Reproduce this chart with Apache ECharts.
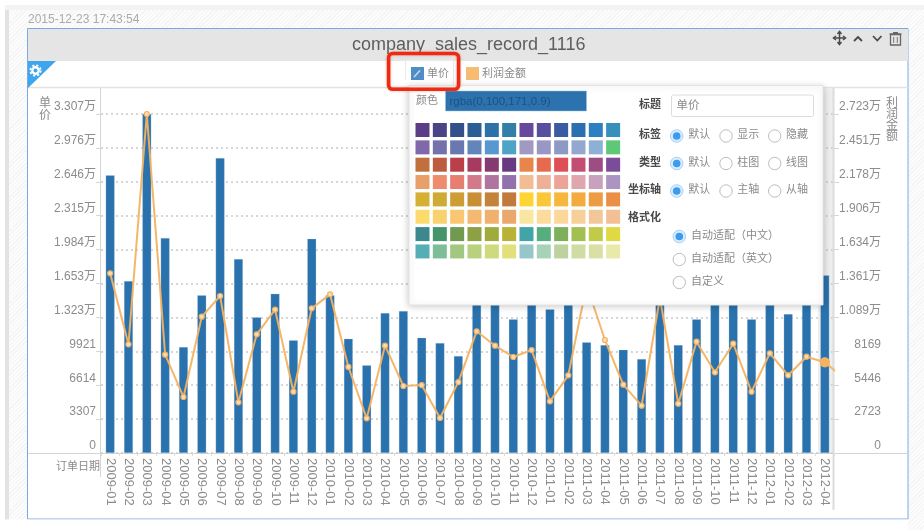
<!DOCTYPE html>
<html><head><meta charset="utf-8">
<style>
html,body{margin:0;padding:0;width:924px;height:530px;overflow:hidden;background:#fff}
#hatch{position:absolute;left:9px;top:10px;width:915px;height:520px;background:repeating-linear-gradient(135deg,#f4f4f4 0,#f4f4f4 1px,#fcfcfc 1px,#fcfcfc 3px)}
#topstrip{position:absolute;left:5px;top:5px;width:919px;height:5px;background:#f3f3f3}
#leftstrip{position:absolute;left:5px;top:10px;width:4px;height:520px;background:#e2e2e2}
#main{position:absolute;left:0;top:0;width:924px;height:530px}
</style>
<script src="https://cdn.jsdelivr.net/npm/echarts@6/dist/echarts.min.js"></script>
</head><body>
<div id="topstrip"></div><div id="leftstrip"></div><div id="hatch"></div><div id="main"></div>
<script>
const FONT = "'Liberation Sans','Noto Sans CJK SC',sans-serif";
const months = ['2009-01','2009-02','2009-03','2009-04','2009-05','2009-06','2009-07','2009-08','2009-09','2009-10','2009-11','2009-12',
'2010-01','2010-02','2010-03','2010-04','2010-05','2010-06','2010-07','2010-08','2010-09','2010-10','2010-11','2010-12',
'2011-01','2011-02','2011-03','2011-04','2011-05','2011-06','2011-07','2011-08','2011-09','2011-10','2011-11','2011-12',
'2012-01','2012-02','2012-03','2012-04','2012-05'];
const unitPrice = [27090,16780,33070,20970,10340,15380,28780,18925,13240,15540,10990,20900,
15380,11150,8550,13660,13850,11250,10730,9460,15800,15300,13040,15600,
14020,15500,10800,10540,10080,9170,15700,10540,13040,15800,16200,13040,
15700,13560,15800,17330,null];
const profit = [14435,8730,27230,7900,4500,10950,12610,4070,9530,11510,4925,11620,
12745,6910,2785,8620,5380,5460,2810,5700,9775,8620,7710,8270,
4150,6240,13495,9077,5490,3800,12450,3960,8940,6480,8780,4925,
8010,6240,7735,7285,6057];
const leftTickLabels = ['0','3307','6614','9921','1.323万','1.653万','1.984万','2.315万','2.646万','2.976万','3.307万'];
const rightTickLabels = ['0','2723','5446','8169','1.089万','1.361万','1.634万','1.906万','2.178万','2.451万','2.723万'];
const swatchColors = [
['#5b3d87','#4a4487','#33508c','#2a5e94','#2b72a8','#327fa8','#66499c','#554f9e','#3b5aa4','#2a6fb0','#2a80c0','#3690bb'],
['#8069ab','#7472ad','#6a78b1','#6485bc','#5897cf','#4ea3c8','#a099c4','#9a97c6','#8e9ac6','#94a7d0','#8fb0d6','#5ec878'],
['#c06f3d','#bd5b40','#b93f48','#a63a60','#853a70','#693a82','#e8854a','#e56a4e','#de4f56','#c24f72','#9e4d84','#7b4c9a'],
['#e99f68','#ee8d6e','#e67f70','#d27a8c','#b074a0','#9271ac','#f2bd93','#eeb096','#eda498','#e0a6b0','#c8a1bc','#ac94c2'],
['#d5b033','#cfaa35','#cd9e35','#c88f37','#c4833a','#c2793c','#ffd535','#f9c738','#f5b83d','#f3ab40','#ee9c43','#ea8f48'],
['#fcdb6e','#f7d26f','#f9c772','#f3b972','#f0b06e','#eba86c','#fae6a0','#fcdc9a','#fcd79c','#f7cf98','#f3c898','#f2c094'],
['#3c888c','#46946c','#6f9a50','#8ca044','#a1aa3d','#b8b338','#41a4a6','#56ae7e','#7db05a','#a2bf52','#c0cb48','#dfd942'],
['#55adb5','#7dbd9a','#a2c880','#b9d07e','#d0da7d','#e2e07a','#96c6ca','#a7d2b8','#bcd3a0','#cfdca4','#d8e0a6','#e9e9aa']];

const STEP_L = 3307, STEP_R = 2723;
const g = [];
const rect = (x,y,w,h,style,z,r)=>g.push({type:'rect',silent:true,z:z,shape:{x,y,width:w,height:h,r:r||0},style});
const line = (x1,y1,x2,y2,stroke,w,z)=>g.push({type:'line',silent:true,z:z,shape:{x1,y1,x2,y2},style:{stroke,lineWidth:w||1}});
const poly = (pts,stroke,w,z)=>g.push({type:'polyline',silent:true,z:z,shape:{points:pts},style:{stroke,lineWidth:w,fill:null}});
const text = (t,x,y,o,z)=>g.push({type:'text',silent:true,z:z,x,y,style:Object.assign({text:t,font:(o.weight||'normal')+' '+(o.size||11)+'px '+FONT,fill:o.color||'#8a8a8a',align:o.align||'left',verticalAlign:'middle'},{})});

// panel
rect(27.5,28.5,880.5,490.5,{fill:'#fff',stroke:'#7aa9e6',lineWidth:1},-20);
rect(28,29,880,32,{fill:'#e5e5e5'},-19);
rect(0,519.5,908,11,{fill:'#fff'},-19);
line(28,87.5,908,87.5,'#e3e3e3',1.5,-18);
text('2015-12-23 17:43:54',28,19.5,{size:12,color:'#ababab'},-18);
// last category hover shade
rect(818,88,15,365,{fill:'#eeeeee'},-17);
// extended axis lines
line(100.5,88,100.5,477,'#d6d6d6',1,-16);
line(833.5,88,833.5,510,'#dcdcdc',2,1);
line(28,453.5,908,453.5,'#d4d4d4',1,-16);
// gear triangle
g.push({type:'polygon',silent:true,z:-15,shape:{points:[[28,61],[56,61],[28,88]]},style:{fill:'#3fa6ee'}});
g.push({type:'circle',silent:true,z:-14,shape:{cx:35.5,cy:70.5,r:3.2},style:{fill:null,stroke:'#fff',lineWidth:2.4}});
g.push({type:'circle',silent:true,z:-14,shape:{cx:35.5,cy:70.5,r:5.2},style:{fill:null,stroke:'#fff',lineWidth:1.8,lineDash:[2.2,1.9]}});
// header icons
const ic='#4a4a4a';
line(839.5,32,839.5,44,ic,1.5,5); line(833.5,38,845.5,38,ic,1.5,5);
poly([[837.5,34],[839.5,31.5],[841.5,34]],ic,1.5,5); poly([[837.5,42],[839.5,44.5],[841.5,42]],ic,1.5,5);
poly([[836,36],[833.5,38],[836,40]],ic,1.5,5); poly([[843,36],[845.5,38],[843,40]],ic,1.5,5);
poly([[854,41],[858,37],[862,41]],ic,1.8,5);
poly([[873,36],[877.3,40.5],[881.5,36]],ic,1.8,5);
g.push({type:'rect',silent:true,z:5,shape:{x:890.5,y:34.5,width:10,height:10.5},style:{fill:null,stroke:'#666',lineWidth:1.3}});
line(889.5,34,901.5,34,'#666',1.3,5); rect(893,32,5,2,{fill:'#666'},5);
line(893.7,37,893.7,43,'#777',1,5); line(897.3,37,897.3,43,'#777',1,5);
// legend tab
poly([[405.5,80],[405.5,60.5],[453.5,60.5],[453.5,84]],'#e9e9e9',1,-10);
line(414,77,420,70.5,'#c9dcee',1.5,5);
// popup
rect(409,85.5,414,219.5,{fill:'#fff',stroke:'#e4e4e4',lineWidth:1,shadowBlur:7,shadowColor:'rgba(0,0,0,0.22)',shadowOffsetY:1},50);
const Z=51;
text('颜色',416,101,{size:11},Z);
rect(445.5,91,141,20,{fill:'#2c72ae',stroke:'#9fc0da',lineWidth:0.5},Z);
text('rgba(0,100,171,0.9)',449.5,101.5,{size:11.5,color:'#1e5180'},Z);
swatchColors.forEach((row,i)=>row.forEach((c,j)=>rect(415.5+j*17.33,123+i*17.35,14,14,{fill:c},Z)));
const labelR=661;
[['标题',105],['标签',135],['类型',162.5],['坐标轴',190],['格式化',217.5]].forEach(a=>text(a[0],labelR,a[1],{size:11,weight:'bold',color:'#4a4a4a',align:'right'},Z));
rect(671.5,95,142,21.5,{fill:'#fff',stroke:'#dcdcdc',lineWidth:1},Z,2);
text('单价',676.5,106,{size:11.5,color:'#8a8a8a'},Z);
const radio=(cx,cy,on)=>{
  if(on){
    g.push({type:'circle',silent:true,z:Z,shape:{cx,cy,r:6.3},style:{fill:'#d8ecfc',stroke:'#a6d3f7',lineWidth:1}});
    g.push({type:'circle',silent:true,z:Z,shape:{cx,cy,r:3.8},style:{fill:'#3a9bef'}});
  } else {
    g.push({type:'circle',silent:true,z:Z,shape:{cx,cy,r:6.2},style:{fill:'#fff',stroke:'#bdbdbd',lineWidth:1}});
  }
};
const radioRows=[[136,['默认','显示','隐藏']],[163.5,['默认','柱图','线图']],[191,['默认','主轴','从轴']]];
radioRows.forEach(r=>{
  [676.7,726,774.7].forEach((x,i)=>{radio(x,r[0],i===0);text(r[1][i],[688.3,737.3,786][i],r[0]-1,{size:11},Z);});
});
[[236.5,'自动适配（中文）'],[259.5,'自动适配（英文）'],[282.5,'自定义']].forEach((r,i)=>{radio(679.3,r[0],i===0);text(r[1],691,r[0]-.5,{size:11},Z);});
// red highlight
rect(388.6,53.5,70,35.8,{fill:null,stroke:'#ee2b10',lineWidth:3.6,shadowBlur:3,shadowColor:'rgba(180,60,40,0.35)'},60,4);

const chart = echarts.init(document.getElementById('main'),null,{renderer:'canvas',width:924,height:530});
const axisTxt={color:'#8c8c8c',fontSize:12,fontFamily:FONT};
chart.setOption({
  animation:false,
  backgroundColor:'transparent',
  title:{text:'company_sales_record_1116',left:347,top:31,textStyle:{color:'#5e5e5e',fontSize:18,fontWeight:'normal',fontFamily:FONT}},
  legend:{left:406,top:62,itemWidth:13,itemHeight:13,itemGap:17,icon:'rect',textStyle:{color:'#8a8a8a',fontSize:11,fontFamily:FONT,padding:[0,0,0,-2]},
    data:[{name:'单价',itemStyle:{color:'#4f8ec4',borderWidth:0}},{name:'利润金额',itemStyle:{color:'#f6bd72',borderWidth:0}}]},
  grid:{left:101,right:90,top:114,bottom:77,containLabel:false},
  xAxis:{type:'category',data:months,min:0,max:39,
    name:'订单日期',nameLocation:'start',nameGap:1,
    nameTextStyle:{color:'#8a8a8a',fontSize:11,fontFamily:FONT,align:'right',verticalAlign:'top',padding:[8,0,0,0]},
    axisLine:{show:false},axisTick:{show:true,length:3,lineStyle:{color:'#dcdcdc'},alignWithLabel:false},
    axisLabel:Object.assign({},axisTxt,{rotate:-90,interval:0,fontSize:13,margin:5,hideOverlap:false}),splitLine:{show:false}},
  yAxis:[
   {type:'value',min:0,max:STEP_L*10,interval:STEP_L,name:'单\n价',nameLocation:'end',nameGap:16,nameMoveOverlap:false,
    nameTextStyle:{color:'#8a8a8a',fontSize:12,fontFamily:FONT,lineHeight:12,align:'right',verticalAlign:'top',padding:[0,50,0,0]},
    axisLine:{show:false},axisTick:{show:true,length:5,lineStyle:{color:'#d6d6d6'}},
    axisLabel:Object.assign({},axisTxt,{margin:5,verticalAlign:'bottom',padding:[0,0,1,0],formatter:(v)=>leftTickLabels[Math.round(v/STEP_L)]}),
    splitLine:{show:true,lineStyle:{color:'#c9c9c9',width:1.5,type:[2,3]}}},
   {type:'value',min:0,max:STEP_R*10,interval:STEP_R,name:'利\n润\n金\n额',nameLocation:'end',nameGap:16,nameMoveOverlap:false,
    nameTextStyle:{color:'#8a8a8a',fontSize:12,fontFamily:FONT,lineHeight:11,align:'left',verticalAlign:'top',padding:[0,0,0,52]},
    axisLine:{show:false},axisTick:{show:true,length:5,lineStyle:{color:'#d6d6d6'}},
    axisLabel:Object.assign({},axisTxt,{align:'right',margin:47,verticalAlign:'bottom',padding:[0,0,1,0],formatter:(v)=>rightTickLabels[Math.round(v/STEP_R)]}),
    splitLine:{show:false}}
  ],
  series:[
   {name:'单价',type:'bar',yAxisIndex:0,barWidth:9,data:unitPrice,itemStyle:{color:'#2a72ad',borderColor:'rgba(190,215,235,0.5)',borderWidth:0.5}},
   {name:'利润金额',type:'line',yAxisIndex:1,data:profit.map((v,i)=>i===39?{value:v,symbolSize:9,itemStyle:{color:'#f4b35f',borderColor:'#f4b35f'}}:v),
    symbol:'circle',symbolSize:5,showSymbol:true,clip:true,lineStyle:{color:'rgba(244,178,96,0.95)',width:2},
    itemStyle:{color:'#fbdcb0',borderColor:'#f2b163',borderWidth:1.2}}
  ],
  graphic:{elements:g}
});
</script>
</body></html>
